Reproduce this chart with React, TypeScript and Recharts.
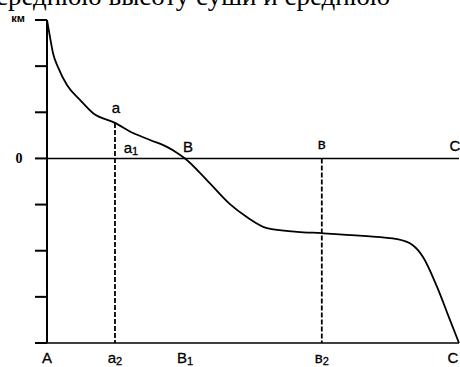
import React from "react";
import { ComposedChart, Line, XAxis, YAxis, ReferenceLine, ReferenceDot } from "recharts";

// Hypsographic curve (x: share of surface, %, y: height, km units of the sketch)
const curveX = [0, 0.73, 1.46, 2.67, 4.85, 8.0, 11.2, 16.5, 20.9, 25.0, 29.1, 31.6, 33.5, 38.8, 44.4, 48.5, 53.4, 60.7, 66.7, 76.7, 85.0, 88.8, 91.3, 94.7, 97.8, 100];
const curveY = [3, 2.63, 2.28, 1.98, 1.59, 1.27, 0.98, 0.77, 0.55, 0.4, 0.25, 0.12, 0, -0.47, -0.99, -1.27, -1.51, -1.59, -1.62, -1.68, -1.75, -1.88, -2.14, -2.79, -3.5, -4];
const yTicks = [-4, -3, -2, -1, 0, 1, 2, 3];
const topText = "среднюю высоту суши и среднюю";

// named points: a (on curve), B (zero crossing), в (zero line), C (right end)
const pointA = { x: 16.5, y: 0.77 };
const pointB = { x: 33.5, y: 0 };
const pointV = { x: 66.7, y: 0 };
const pointC = { x: 100, y: 0 };
const bottomY = -4;
const topLabels = [
  { x: pointA.x, y: pointA.y, main: "a", sub: "" },
  { x: pointA.x, y: 0, main: "a", sub: "1" },
  { x: pointB.x, y: pointB.y, main: "B", sub: "" },
  { x: pointV.x, y: pointV.y, main: "в", sub: "" },
  { x: pointC.x, y: pointC.y, main: "C", sub: "" },
];
const bottomLabels = [
  { x: 0, main: "A", sub: "" },
  { x: pointA.x, main: "a", sub: "2" },
  { x: pointB.x, main: "B", sub: "1" },
  { x: pointV.x, main: "в", sub: "2" },
  { x: pointC.x, main: "C", sub: "" },
];

const data = curveX.map((x, i) => ({ x, y: curveY[i] }));

const FONT = "Liberation Sans, Arial, sans-serif";

const YTick = (props: any) => {
  const { x, y, payload } = props;
  if (payload.value === 0) {
    return (
      <text x={x - 14} y={y + 5} textAnchor="middle" fontFamily="Liberation Serif, serif" fontSize={14} fontWeight="bold" fill="#000">
        0
      </text>
    );
  }
  if (payload.value === 3) {
    return (
      <text x={x - 15} y={y + 2} textAnchor="middle" fontFamily={FONT} fontSize={11} fontWeight="bold" fill="#000">
        км
      </text>
    );
  }
  return null;
};

const makeLabel = (main: string, sub: string, dx: number, dy: number) => (props: any) => {
  const vb = props.viewBox || {};
  const cx = vb.x + (vb.width || 0) / 2;
  const cy = vb.y + (vb.height || 0) / 2;
  return (
    <text x={cx + dx} y={cy + dy} textAnchor="middle" fontFamily={FONT} fontSize={15} fill="#000" stroke="#000" strokeWidth={0.3}>
      {main}
      {sub ? (
        <tspan fontSize={11} dy={2}>
          {sub}
        </tspan>
      ) : null}
    </text>
  );
};

const topOffsets: Record<string, [number, number]> = {
  "a": [1, -10],
  "a1": [16, -5],
  "B": [3, -6],
  "в": [0, -9],
  "C": [-4, -7],
};

export default function App() {
  return (
    <div style={{ position: "absolute", left: 0, top: 0, width: 460, height: 367, overflow: "hidden", background: "#fff" }}>
      <div
        style={{
          position: "absolute",
          left: -4,
          top: -20,
          fontFamily: "Liberation Serif, 'Times New Roman', serif",
          fontSize: 27,
          lineHeight: "32px",
          whiteSpace: "nowrap",
          color: "#000",
        }}
      >
        {topText}
      </div>
      <ComposedChart width={460} height={367} data={data} margin={{ top: 20, right: 1, bottom: 24, left: 0 }}>
        <XAxis dataKey="x" type="number" domain={[0, 100]} hide />
        <YAxis
          type="number"
          domain={[-4, 3]}
          ticks={yTicks}
          width={47}
          tickSize={12}
          axisLine={{ stroke: "#000", strokeWidth: 2 }}
          tickLine={{ stroke: "#000", strokeWidth: 2 }}
          tick={<YTick />}
          interval={0}
        />
        <ReferenceLine y={0} stroke="#000" strokeWidth={1.5} />
        <ReferenceLine y={bottomY} stroke="#000" strokeWidth={1.5} />
        <ReferenceLine
          segment={[{ x: pointA.x, y: pointA.y }, { x: pointA.x, y: bottomY }]}
          stroke="#000"
          strokeWidth={1.8}
          strokeDasharray="5 2"
        />
        <ReferenceLine
          segment={[{ x: pointV.x, y: pointV.y }, { x: pointV.x, y: bottomY }]}
          stroke="#000"
          strokeWidth={1.8}
          strokeDasharray="5 2"
        />
        <Line
          type="monotone"
          dataKey="y"
          stroke="#000"
          strokeWidth={1.8}
          dot={false}
          isAnimationActive={false}
        />
        {topLabels.map((l) => {
          const key = l.main + l.sub;
          const [dx, dy] = topOffsets[key] || [0, 0];
          return (
            <ReferenceDot key={"t" + key} x={l.x} y={l.y} r={0} stroke="none" fill="none" label={makeLabel(l.main, l.sub, dx, dy)} />
          );
        })}
        {bottomLabels.map((l) => (
          <ReferenceDot
            key={"b" + l.main + l.sub}
            x={l.x}
            y={bottomY}
            r={0}
            stroke="none"
            fill="none"
            label={makeLabel(l.main, l.sub, l.main === "C" ? -6 : 0, 20)}
          />
        ))}
      </ComposedChart>
    </div>
  );
}
